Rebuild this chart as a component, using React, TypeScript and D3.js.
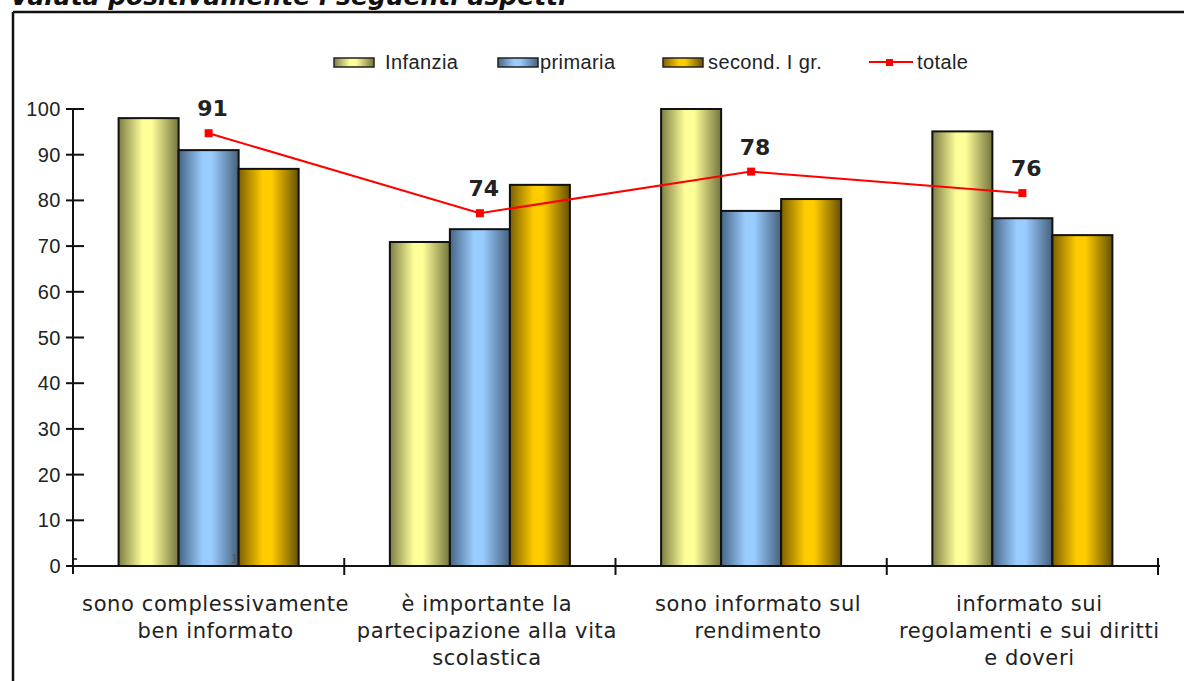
import React from "react";
import * as d3 from "d3";

const categories: string[][] = [
  ["sono complessivamente", "ben informato"],
  ["è importante la", "partecipazione alla vita", "scolastica"],
  ["sono informato sul", "rendimento"],
  ["informato sui", "regolamenti e sui diritti", "e doveri"],
];
const seriesNames = ["Infanzia", "primaria", "second. I gr."];
const infanzia = [98.0, 70.9, 100.0, 95.1];
const primaria = [91.0, 73.7, 77.7, 76.1];
const secondaria = [86.9, 83.4, 80.3, 72.4];
const totaleLine = [94.7, 77.2, 86.3, 81.6];
const totaleLabels = ["91", "74", "78", "76"];
const yTicks = [0, 10, 20, 30, 40, 50, 60, 70, 80, 90, 100];
const title = "Valuta positivamente i seguenti aspetti";

const grads = [
  { id: "gY", edgeL: "#7e7e46", mid: "#ffff99", edgeR: "#74743e" },
  { id: "gB", edgeL: "#466584", mid: "#99ccff", edgeR: "#46607c" },
  { id: "gG", edgeL: "#7d6000", mid: "#ffcc00", edgeR: "#665000" },
];

export default function App() {
  const W = 1184, H = 681;
  const x0 = 73, x1 = 1158, yTop = 109, yBot = 566;
  const values = [infanzia, primaria, secondaria];
  const x = d3.scaleBand<number>().domain(d3.range(categories.length)).range([x0, x1]).padding(0);
  const xs = d3.scaleBand<number>().domain(d3.range(3)).range([0, x.bandwidth()]).paddingInner(0).paddingOuter(0.76);
  const y = d3.scaleLinear().domain([0, 100]).range([yBot, yTop]);
  const cx = (i: number) => (x(i) as number) + x.bandwidth() / 2;
  const line = d3.line<number>().x((_, i) => cx(i)).y((d) => y(d));
  const boundaries = d3.range(categories.length + 1).map((i) => x0 + i * x.bandwidth());

  const legendItems = [
    { sx: 334, tx: 385 },
    { sx: 498, tx: 540 },
    { sx: 663, tx: 708 },
  ];

  return (
    <svg width={W} height={H} style={{ position: "absolute", left: 0, top: 0, background: "#fff" }}>
      <defs>
        {grads.map((g) => (
          <linearGradient key={g.id} id={g.id} x1="0" x2="1" y1="0" y2="0">
            <stop offset="0%" stopColor={g.edgeL} />
            <stop offset="40%" stopColor={g.mid} />
            <stop offset="55%" stopColor={g.mid} />
            <stop offset="100%" stopColor={g.edgeR} />
          </linearGradient>
        ))}
      </defs>
      <rect x={0} y={0} width={W} height={H} fill="#fff" />
      <text x={10} y={5} fontFamily="DejaVu Sans" fontWeight="bold" fontStyle="italic" fontSize={25} fill="#111">
        {title}
      </text>
      <line x1={13} y1={12} x2={W} y2={12} stroke="#111" strokeWidth={2.5} />
      <line x1={13} y1={12} x2={13} y2={H} stroke="#111" strokeWidth={2.5} />

      {/* legend */}
      {seriesNames.map((n, i) => (
        <g key={n}>
          <rect x={legendItems[i].sx} y={58} width={40} height={9} fill={`url(#${grads[i].id})`} stroke="#222" strokeWidth={1.5} />
          <text x={legendItems[i].tx} y={69} fontFamily="Liberation Sans" fontSize={20} letterSpacing={0.4} fill="#222">{n}</text>
        </g>
      ))}
      <line x1={869} y1={62} x2={913} y2={62} stroke="#ff0000" strokeWidth={2} />
      <rect x={886} y={59} width={7} height={7} fill="#ff0000" />
      <text x={917} y={69} fontFamily="Liberation Sans" fontSize={20} letterSpacing={0.4} fill="#222">totale</text>

      {/* bars */}
      {values.map((vals, s) =>
        vals.map((v, i) => (
          <rect
            key={`${s}-${i}`}
            x={(x(i) as number) + (xs(s) as number)}
            y={y(v)}
            width={xs.bandwidth()}
            height={yBot - y(v)}
            fill={`url(#${grads[s].id})`}
            stroke="#111"
            strokeWidth={2}
          />
        ))
      )}

      {/* axes */}
      <line x1={x0} y1={yTop} x2={x0} y2={yBot + 8} stroke="#111" strokeWidth={2} />
      <line x1={x0 - 6} y1={yBot} x2={x1 + 2} y2={yBot} stroke="#111" strokeWidth={2} />
      {yTicks.map((t) => (
        <g key={t}>
          <line x1={x0 - 7} x2={x0 + 11} y1={y(t)} y2={y(t)} stroke="#111" strokeWidth={2} />
          <text x={61} y={y(t) + 7} textAnchor="end" fontFamily="Liberation Sans" fontSize={20} letterSpacing={0.5} fill="#222">{t}</text>
        </g>
      ))}
      {boundaries.slice(1).map((b, i) => (
        <line key={i} x1={b} x2={b} y1={yBot - 8} y2={yBot + 9} stroke="#111" strokeWidth={2} />
      ))}
      <line x1={x0} x2={x0 + 4} y1={yBot - 7} y2={yBot - 7} stroke="#111" strokeWidth={1.5} />
      <text x={231} y={563} fontFamily="Liberation Sans" fontSize={13} fill="#555">1</text>

      {/* category labels */}
      {categories.map((lines, i) => (
        <text key={i} textAnchor="middle" fontFamily="DejaVu Sans" fontSize={21} letterSpacing={0.6} fill="#222">
          {lines.map((l, j) => (
            <tspan key={j} x={cx(i) + 7} y={611 + j * 27}>{l}</tspan>
          ))}
        </text>
      ))}

      {/* totale line */}
      <path d={line(totaleLine) as string} fill="none" stroke="#ff0000" strokeWidth={2} />
      {totaleLine.map((v, i) => (
        <rect key={i} x={cx(i) - 4} y={y(v) - 4} width={8} height={8} fill="#ff0000" />
      ))}
      {totaleLine.map((v, i) => (
        <text key={i} x={cx(i) + 4} y={y(v) - 17} textAnchor="middle" fontFamily="DejaVu Sans" fontWeight="bold" fontSize={22} fill="#222">
          {totaleLabels[i]}
        </text>
      ))}
    </svg>
  );
}
